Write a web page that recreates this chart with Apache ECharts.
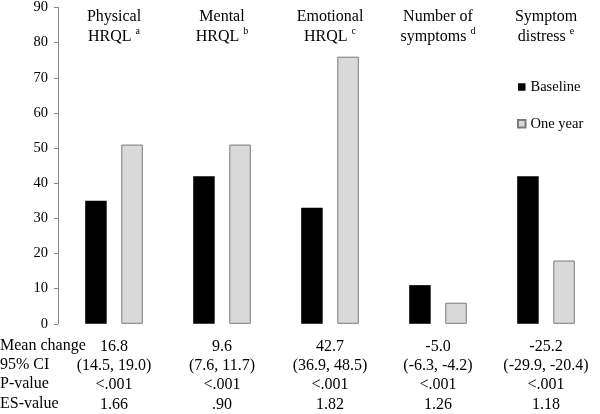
<!DOCTYPE html>
<html><head><meta charset="utf-8">
<script src="https://cdn.jsdelivr.net/npm/echarts@6/dist/echarts.min.js"></script>
<style>html,body{margin:0;padding:0;background:#fff}#c{width:600px;height:414px}</style>
</head><body><div id="c"></div>
<script>
var titleLine1 = ['Physical', 'Mental', 'Emotional', 'Number of', 'Symptom'];
var titleLine2 = ['HRQL', 'HRQL', 'HRQL', 'symptoms', 'distress'];
var titleSup = ['a', 'b', 'c', 'd', 'e'];
var baseline = [35, 42, 33, 11, 42];
var oneYear = [51, 51, 76, 6, 18];
var meanChange = ['16.8', '9.6', '42.7', '-5.0', '-25.2'];
var ci95 = ['(14.5, 19.0)', '(7.6, 11.7)', '(36.9, 48.5)', '(-6.3, -4.2)', '(-29.9, -20.4)'];
var pValue = ['<.001', '<.001', '<.001', '<.001', '<.001'];
var esValue = ['1.66', '.90', '1.82', '1.26', '1.18'];
var rowLabels = ['Mean change', '95% CI', 'P-value', 'ES-value'];
var yTicks = [0, 10, 20, 30, 40, 50, 60, 70, 80, 90];
var seriesNames = ['Baseline', 'One year'];

var FONT = '"Liberation Serif", "Times New Roman", serif';
var cats = titleLine1.map(function (t, i) { return i; });

var chart = echarts.init(document.getElementById('c'));
chart.setOption({
  animation: false,
  textStyle: { fontFamily: FONT, color: '#000' },
  grid: { left: 60, top: 5, width: 546, height: 319 },
  title: {
    text: rowLabels.join('\n'),
    left: 0, top: 336, padding: 0,
    textStyle: { fontFamily: FONT, fontSize: 16, fontWeight: 'normal', color: '#000', lineHeight: 19.3 }
  },
  legend: {
    orient: 'vertical', left: 517, top: 79, padding: 0, itemWidth: 7.5, itemHeight: 7.5, itemGap: 20.7,
    icon: 'rect',
    data: seriesNames,
    textStyle: { fontFamily: FONT, fontSize: 14.5, color: '#000', lineHeight: 16 }
  },
  xAxis: [{
    type: 'category', data: cats, position: 'bottom',
    axisLine: { show: false }, axisTick: { show: false },
    axisLabel: {
      interval: 0, margin: 13, color: '#000', fontFamily: FONT, fontSize: 16, lineHeight: 19.3,
      formatter: function (v, i) {
        return [meanChange[i], ci95[i], pValue[i], esValue[i]].join('\n');
      }
    }
  }, {
    type: 'category', data: cats, position: 'top', gridIndex: 0,
    axisLine: { show: false }, axisTick: { show: false },
    axisLabel: {
      interval: 0, inside: true, margin: -1, color: '#000', fontFamily: FONT, fontSize: 16, lineHeight: 20,
      formatter: function (v, i) {
        return titleLine1[i] + '\n' + titleLine2[i] + ' {sup|' + titleSup[i] + '}';
      },
      rich: {
        sup: { fontSize: 10, verticalAlign: 'top', lineHeight: 20, padding: [0, 0, 6, 0], fontFamily: FONT, color: '#000' }
      }
    }
  }],
  yAxis: {
    type: 'value', min: 0, max: 90, interval: 10, offset: 2,
    splitLine: { show: false },
    axisLine: { show: true, lineStyle: { color: '#8a8a8a', width: 1 } },
    axisTick: { show: true, length: 4, lineStyle: { color: '#8a8a8a' } },
    axisLabel: { margin: 10, color: '#000', fontFamily: FONT, fontSize: 14.5,
      formatter: function (v) { return yTicks.indexOf(v) >= 0 ? String(v) : ''; } }
  },
  series: [{
    name: seriesNames[0], type: 'bar', data: baseline, barWidth: 21.5, barGap: '68%',
    itemStyle: { color: '#000000' }
  }, {
    name: seriesNames[1], type: 'bar', data: oneYear, barWidth: 21.5,
    itemStyle: { color: '#d9d9d9', borderColor: '#7a7a7a', borderWidth: 1 }
  }]
});
</script></body></html>
